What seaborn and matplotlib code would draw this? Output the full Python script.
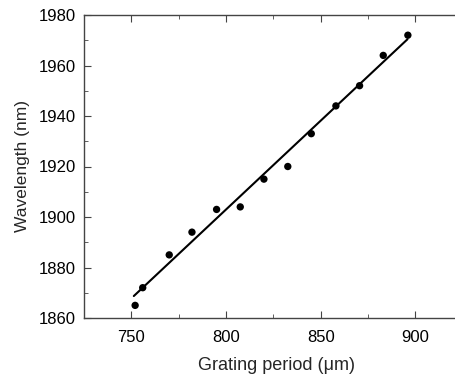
import numpy as np
import pandas as pd
import matplotlib
matplotlib.use("Agg")
import matplotlib.pyplot as plt
import seaborn as sns
from matplotlib.ticker import MultipleLocator

# measured points
period = [752, 756, 770, 782, 795, 807.5, 820, 832.6, 845, 858, 870.5, 883, 896]
wavelength = [1865, 1872, 1885, 1894, 1903, 1904, 1915, 1920, 1933, 1944, 1952, 1964, 1972]

# fitted line (end points)
fit_period = [751.3, 895.8]
fit_wavelength = [1868.7, 1970.4]

df = pd.DataFrame({"period": period, "wavelength": wavelength})
fit = pd.DataFrame({"period": fit_period, "wavelength": fit_wavelength})

sns.set_style("ticks")
plt.rcParams["font.family"] = ["Liberation Sans", "DejaVu Sans"]

W = 456
H = 379
left, right, bottom, top = 84, 510, 318, 15  # pixel positions of the axes box
fig = plt.figure(figsize=(W / 100, H / 100), dpi=100)
ax = fig.add_axes([left / W, (H - bottom) / H, (right - left) / W, (bottom - top) / H])

sns.lineplot(data=fit, x="period", y="wavelength", color="black", linewidth=1.5, ax=ax)
sns.scatterplot(data=df, x="period", y="wavelength", color="black", s=28, edgecolor="none", ax=ax, zorder=3)

ax.set_xlim(725, 725 + (right - left) / 1.894)
ax.set_ylim(1860, 1980)
ax.xaxis.set_major_locator(MultipleLocator(50))
ax.xaxis.set_minor_locator(MultipleLocator(25))
ax.yaxis.set_major_locator(MultipleLocator(20))
ax.yaxis.set_minor_locator(MultipleLocator(10))
ax.tick_params(which="both", direction="in", top=True, right=True, labelsize=12, colors="#444444", labelcolor="black")
ax.tick_params(which="major", length=5)
ax.tick_params(which="minor", length=3)
ax.tick_params(axis="x", which="major", pad=9)
ax.tick_params(axis="y", which="major", pad=6)
for s in ax.spines.values():
    s.set_visible(True)
    s.set_color("#444444")
    s.set_linewidth(1.0)

ax.set_xlabel("Grating period (\u03bcm)", fontsize=13)
ax.set_ylabel("Wavelength (nm)", fontsize=12.5)
ax.xaxis.set_label_coords((277 - left) / (right - left), -(366 - bottom) / (bottom - top))
ax.yaxis.set_label_coords(-(left - 23) / (right - left), 0.5)
ax.xaxis.label.set_va("center")
ax.yaxis.label.set_va("center")

fig.savefig("out.png", dpi=100)
